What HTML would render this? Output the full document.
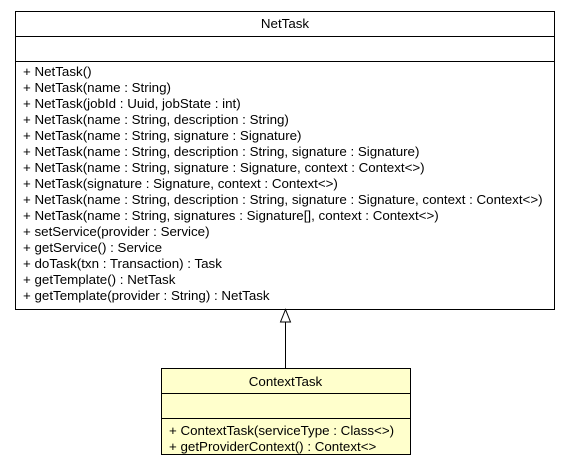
<!DOCTYPE html>
<html><head><style>html,body{margin:0;padding:0;background:#fff}svg{display:block}text{font-family:"Liberation Sans",sans-serif;font-size:13.35px;fill:#000}</style></head><body>
<svg width="571" height="469" viewBox="0 0 571 469">
<rect x="15.5" y="11.5" width="539" height="298" fill="#fff" stroke="#000"/>
<line x1="15" y1="36.5" x2="554" y2="36.5" stroke="#000"/>
<line x1="15" y1="61.5" x2="554" y2="61.5" stroke="#000"/>
<text x="285" y="28" text-anchor="middle">NetTask</text>
<g>
<text x="23" y="76">+ NetTask()</text>
<text x="23" y="92">+ NetTask(name : String)</text>
<text x="23" y="108">+ NetTask(jobId : Uuid, jobState : int)</text>
<text x="23" y="124">+ NetTask(name : String, description : String)</text>
<text x="23" y="140">+ NetTask(name : String, signature : Signature)</text>
<text x="23" y="156">+ NetTask(name : String, description : String, signature : Signature)</text>
<text x="23" y="172">+ NetTask(name : String, signature : Signature, context : Context&lt;&gt;)</text>
<text x="23" y="188">+ NetTask(signature : Signature, context : Context&lt;&gt;)</text>
<text x="23" y="204">+ NetTask(name : String, description : String, signature : Signature, context : Context&lt;&gt;)</text>
<text x="23" y="220">+ NetTask(name : String, signatures : Signature[], context : Context&lt;&gt;)</text>
<text x="23" y="236">+ setService(provider : Service)</text>
<text x="23" y="252">+ getService() : Service</text>
<text x="23" y="268">+ doTask(txn : Transaction) : Task</text>
<text x="23" y="284">+ getTemplate() : NetTask</text>
<text x="23" y="300">+ getTemplate(provider : String) : NetTask</text>
</g>
<line x1="285.5" y1="322" x2="285.5" y2="368" stroke="#000"/>
<polygon points="285.5,309.5 280.5,322 290.5,322" fill="#fff" stroke="#000"/>
<rect x="161.5" y="368.5" width="249" height="86" fill="#ffffcc" stroke="#000"/>
<line x1="161" y1="393.5" x2="410" y2="393.5" stroke="#000"/>
<line x1="161" y1="418.5" x2="410" y2="418.5" stroke="#000"/>
<text x="285.5" y="386" text-anchor="middle">ContextTask</text>
<text x="169" y="435">+ ContextTask(serviceType : Class&lt;&gt;)</text>
<text x="169" y="451">+ getProviderContext() : Context&lt;&gt;</text>
</svg>
</body></html>
